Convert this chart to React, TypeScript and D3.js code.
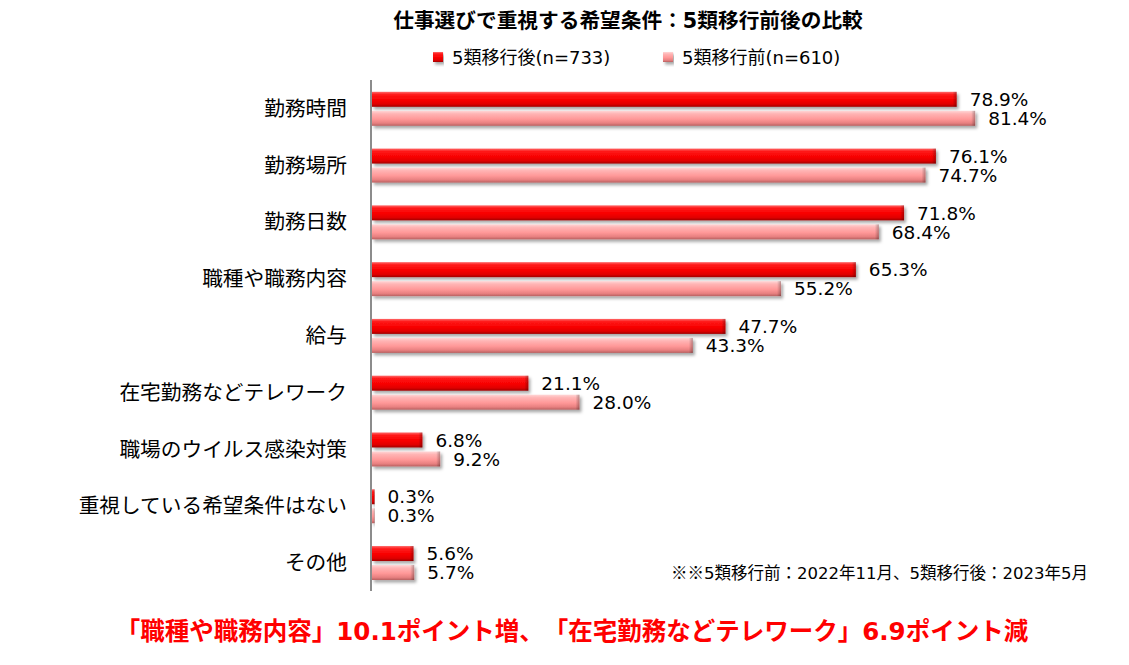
import React from "react";
import * as d3 from "d3";

const categories = [
  "勤務時間",
  "勤務場所",
  "勤務日数",
  "職種や職務内容",
  "給与",
  "在宅勤務などテレワーク",
  "職場のウイルス感染対策",
  "重視している希望条件はない",
  "その他",
];
const seriesNames = ["5類移行後(n=733)", "5類移行前(n=610)"];
const afterValues = [78.9, 76.1, 71.8, 65.3, 47.7, 21.1, 6.8, 0.3, 5.6];
const beforeValues = [81.4, 74.7, 68.4, 55.2, 43.3, 28.0, 9.2, 0.3, 5.7];
const title = "仕事選びで重視する希望条件：5類移行前後の比較";
const footnoteMark = "※※";
const footnote = "5類移行前：2022年11月、5類移行後：2023年5月";
const headline = "「職種や職務内容」10.1ポイント増、「在宅勤務などテレワーク」6.9ポイント減";

const W = 1129;
const H = 665;
const JP = "'DejaVu Sans', 'Noto Sans CJK JP', sans-serif";
const CJK = "'Noto Sans CJK JP', sans-serif";
const NUM = "'DejaVu Sans', Verdana, sans-serif";
const noTrim: any = { textSpacingTrim: "space-all" };

export default function App() {
  const x = d3.scaleLinear().domain([0, 100]).range([371, 1112]);
  const y = d3.scaleBand<string>().domain(categories).range([80, 591]);
  const sub = d3
    .scaleBand<number>()
    .domain([0, 1])
    .range([11.8, 45.8])
    .paddingInner(0.2105);
  const series = [afterValues, beforeValues];
  const grads = ["gRed", "gPink"];

  return (
    <svg
      width={W}
      height={H}
      style={{ position: "absolute", left: 0, top: 0, background: "#fff" }}
    >
      <defs>
        <linearGradient id="gRed" x1="0" y1="0" x2="0" y2="1">
          <stop offset="0%" stopColor="#ff6a6a" />
          <stop offset="18%" stopColor="#ff1a1a" />
          <stop offset="55%" stopColor="#f80000" />
          <stop offset="82%" stopColor="#e00000" />
          <stop offset="100%" stopColor="#a00000" />
        </linearGradient>
        <linearGradient id="gPink" x1="0" y1="0" x2="0" y2="1">
          <stop offset="0%" stopColor="#ffd6d6" />
          <stop offset="20%" stopColor="#ffb4b4" />
          <stop offset="55%" stopColor="#ff9898" />
          <stop offset="82%" stopColor="#e88080" />
          <stop offset="100%" stopColor="#b86060" />
        </linearGradient>
        <linearGradient id="gEnd" x1="0" y1="0" x2="1" y2="0">
          <stop offset="0%" stopColor="#000" stopOpacity="0" />
          <stop offset="100%" stopColor="#000" stopOpacity="0.28" />
        </linearGradient>
        <filter id="shadow" x="-5%" y="-30%" width="115%" height="180%">
          <feDropShadow dx="2" dy="2.5" stdDeviation="1.4" floodColor="#000" floodOpacity="0.35" />
        </filter>
      </defs>

      <text
        x={628}
        y={28}
        textAnchor="middle"
        fontFamily={JP}
        fontWeight="bold"
        fontSize={20.7}
        fill="#000"
        style={noTrim}
      >
        {title}
      </text>

      {seriesNames.map((name, i) => {
        const lx = i === 0 ? 433 : 663;
        return (
          <g key={name}>
            <rect x={lx} y={52} width={10} height={10} fill={`url(#${grads[i]})`} filter="url(#shadow)" />
            <text x={lx + 19} y={63.5} fontFamily={JP} fontSize={18} fill="#000">
              {name}
            </text>
          </g>
        );
      })}

      {categories.map((c, ci) => {
        const y0 = y(c)!;
        return (
          <g key={c}>
            <text
              x={347}
              y={y0 + y.bandwidth() / 2}
              dy="0.36em"
              textAnchor="end"
              fontFamily={JP}
              fontSize={20.7}
              fill="#000"
            >
              {c}
            </text>
            {series.map((vals, si) => {
              const by = y0 + sub(si)!;
              const bh = sub.bandwidth();
              const bw = Math.max(x(vals[ci]) - x(0), 2.5);
              const endW = Math.min(4, bw / 2);
              return (
                <g key={si}>
                  <g filter="url(#shadow)">
                    <rect x={x(0) + 1} y={by} width={bw} height={bh} fill={`url(#${grads[si]})`} />
                  </g>
                  <rect x={x(0) + 1 + bw - endW} y={by} width={endW} height={bh} fill="url(#gEnd)" />
                  <text
                    x={x(0) + 1 + bw + 13}
                    y={by + bh / 2}
                    dy="0.36em"
                    fontFamily={NUM}
                    fontSize={18.5}
                    fill="#000"
                  >
                    {vals[ci].toFixed(1) + "%"}
                  </text>
                </g>
              );
            })}
          </g>
        );
      })}

      <line x1={371} x2={371} y1={80} y2={591} stroke="#8c8c8c" strokeWidth={2} />

      <text x={1088} y={579} textAnchor="end" fontFamily={JP} fontSize={16.5} fill="#000" style={noTrim}>
        <tspan fontFamily={CJK}>{footnoteMark}</tspan>
        <tspan>{footnote}</tspan>
      </text>

      <text
        x={572}
        y={640}
        textAnchor="middle"
        fontFamily={JP}
        fontWeight="bold"
        fontSize={24.5}
        fill="#ff0000"
        style={noTrim}
      >
        {headline}
      </text>
    </svg>
  );
}
